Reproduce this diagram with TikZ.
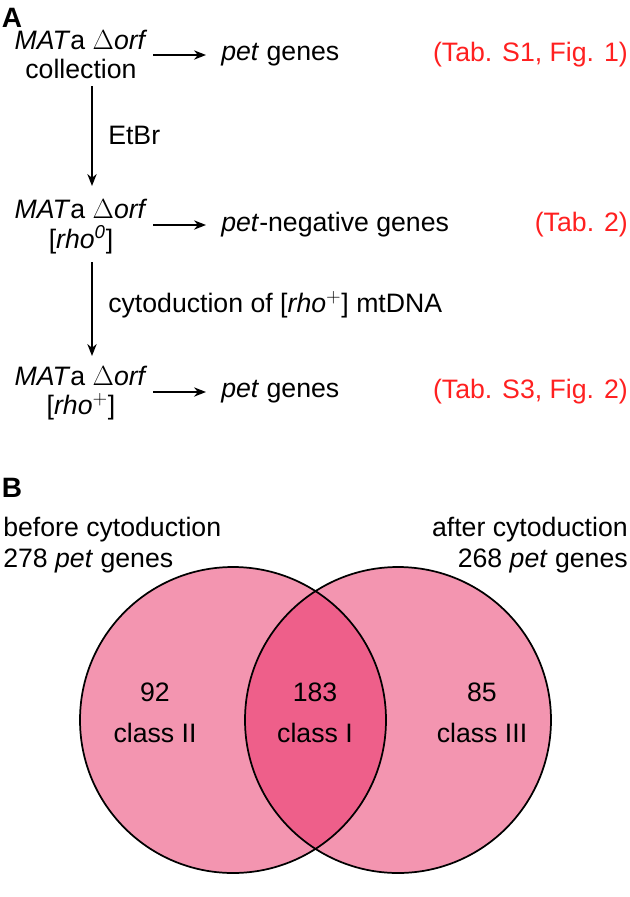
\documentclass[tikz,border=0pt]{standalone}
\usepackage{fontspec}
\setmainfont{Liberation Sans}
\usetikzlibrary{arrows.meta}
\definecolor{pinkA}{HTML}{F395B0}
\definecolor{pinkB}{HTML}{EE5F8A}
\definecolor{refred}{HTML}{FF2020}
\begin{document}
\begin{tikzpicture}[x=0.75pt,y=-0.75pt,
  every node/.style={font=\fontsize{20}{24}\selectfont,inner sep=0pt},
  arr/.style={-{Stealth[length=9pt,width=7pt]},line width=1.1pt},
  red/.style={text=refred}]
\useasboundingbox (0,0) rectangle (630,897);
\node[font=\fontsize{21}{24}\selectfont\bfseries] (lA) at (12,18) {A};
\node[font=\fontsize{21}{24}\selectfont\bfseries] (lB) at (12,488) {B};
% rows
\node (m1) at (81,40) {\textit{MAT}a $\Delta$\textit{orf}};
\node (c1) at (81,69) {collection};
\node (m2) at (81,209) {\textit{MAT}a $\Delta$\textit{orf}};
\node (c2) at (81,240) {[\textit{rho}$^{\mathit{0}}$]};
\node (m3) at (81,376) {\textit{MAT}a $\Delta$\textit{orf}};
\node (c3) at (81,407) {[\textit{rho}$^{+}$]};
\coordinate (a1s) at (153,55); \coordinate (a1e) at (206,55);
\coordinate (a2s) at (153,225); \coordinate (a2e) at (206,225);
\coordinate (a3s) at (153,392); \coordinate (a3e) at (206,392);
\draw[arr] (a1s) -- (a1e);
\draw[arr] (a2s) -- (a2e);
\draw[arr] (a3s) -- (a3e);
\node[anchor=west] (g1) at (221,55) {\textit{pet} genes};
\node[anchor=west] (g2) at (221,225) {\textit{pet}-negative genes};
\node[anchor=west] (g3) at (221,392) {\textit{pet} genes};
\node[red,anchor=east] (t1) at (628,55) {(Tab. S1, Fig. 1)};
\node[red,anchor=east] (t2) at (628,225) {(Tab. 2)};
\node[red,anchor=east] (t3) at (628,392) {(Tab. S3, Fig. 2)};
\coordinate (v1s) at (92,86); \coordinate (v1e) at (92,186);
\coordinate (v2s) at (92,262); \coordinate (v2e) at (92,356);
\draw[arr] (v1s) -- (v1e);
\draw[arr] (v2s) -- (v2e);
\node[anchor=west] (e1) at (108,135) {EtBr};
\node[anchor=west] (e2) at (108,305) {cytoduction of [\textit{rho}$^{+}$] mtDNA};
% B
\node[anchor=west] (b1) at (3,530) {before cytoduction};
\node[anchor=west] (b2) at (3,561) {278 \textit{pet} genes};
\node[anchor=east] (b3) at (628,530) {after cytoduction};
\node[anchor=east] (b4) at (628,561) {268 \textit{pet} genes};
\fill[pinkA] (233,720) circle (153);
\fill[pinkA] (398,720) circle (153);
\begin{scope}
\clip (233,720) circle (153);
\fill[pinkB] (398,720) circle (153);
\end{scope}
\draw[line width=1.3pt] (233,720) circle (153);
\draw[line width=1.3pt] (398,720) circle (153);
\node (n1) at (155,692) {92};
\node (k1) at (155,733) {class II};
\node (n2) at (315,692) {183};
\node (k2) at (315,733) {class I};
\node (n3) at (482,692) {85};
\node (k3) at (482,733) {class III};
\end{tikzpicture}
\end{document}
